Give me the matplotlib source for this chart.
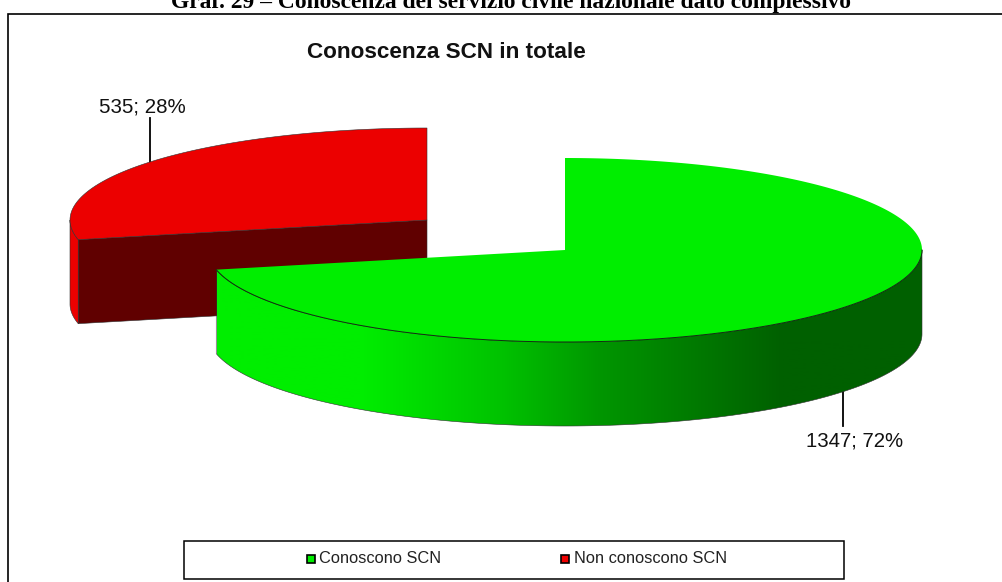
import numpy as np
import matplotlib
matplotlib.use("Agg")
from matplotlib import pyplot as plt
from matplotlib.patches import Polygon, Rectangle

# data
categories = ["Conoscono SCN", "Non conoscono SCN"]
values = [1347, 535]
percent_labels = ["72%", "28%"]
chart_title = "Conoscenza SCN in totale"
caption = "Graf. 29 – Conoscenza del servizio civile nazionale dato complessivo"

W, H = 1002, 582
rx, ry, depth = 357, 92, 84
green_c = (565, 250)
red_c = (427, 220)

LIGHT_GREEN = np.array([0, 238, 0]) / 255
RED = "#ec0000"
DARK_RED = "#600000"
EDGE = "#303030"

fractions = np.array(values) / sum(values)
split = 360 * fractions[0]


def rim(c, a0, a1, n=300):
    # angles clockwise from the top of the ellipse
    t = np.radians(np.linspace(a0, a1, n))
    return c[0] + rx * np.sin(t), c[1] - ry * np.cos(t)


fig = plt.figure(figsize=(W / 100, H / 100), dpi=100)
ax = fig.add_axes([0, 0, 1, 1])
ax.set_xlim(0, W)
ax.set_ylim(H, 0)
ax.axis("off")

# outer frame and caption
ax.add_patch(Rectangle((8.5, 13.5), W, H, fc="white", ec="black", lw=1.2, zorder=0))
ax.text(511, 8, caption, family="Liberation Serif", weight="bold", fontsize=16.9,
        ha="center", va="baseline", color="black", zorder=0.5)
ax.text(446, 52, chart_title, family="Liberation Sans", weight="bold", fontsize=16.2,
        ha="center", va="center", color="#111111")

# red slice: rim, cut face, top
x, y = rim(red_c, split, 270)
ax.add_patch(Polygon(np.r_[np.c_[x, y], np.c_[x, y + depth][::-1]], fc=RED, ec=EDGE, lw=0.4, zorder=1))
x0, y0 = rim(red_c, split, split, 1)
face = [(x0[0], y0[0]), red_c, (red_c[0], red_c[1] + depth), (x0[0], y0[0] + depth)]
ax.add_patch(Polygon(face, fc=DARK_RED, ec=EDGE, lw=0.4, zorder=2))
x, y = rim(red_c, split, 360)
ax.add_patch(Polygon(np.r_[np.c_[x, y], [red_c]], fc=RED, ec=EDGE, lw=0.4, zorder=3))

# green slice: rim with a horizontal gradient clipped to its outline
x, y = rim(green_c, 90, split)
side = Polygon(np.r_[np.c_[x, y], np.c_[x, y + depth][::-1]], fc="none", ec=EDGE, lw=0.4, zorder=5)
ax.add_patch(side)
ramp_x = np.arange(217, 923)
ramp_g = np.interp(ramp_x, [360, 500, 600, 783], [238, 195, 150, 96]) / 255
ramp = np.c_[np.zeros_like(ramp_g), ramp_g, np.zeros_like(ramp_g)]
im = ax.imshow(ramp[None, :, :], extent=(217, 922, 440, 240), aspect="auto", zorder=4)
im.set_clip_path(side)
ax.set_xlim(0, W)
ax.set_ylim(H, 0)

x, y = rim(green_c, 0, split)
ax.add_patch(Polygon(np.r_[np.c_[x, y], [green_c]], fc=LIGHT_GREEN, ec="none", zorder=6))
x, y = rim(green_c, 90, split)
ax.plot(x, y, color="#103010", lw=0.7, zorder=7)

# data labels with leader lines
ax.plot([150, 150], [118, 162], color="black", lw=1.3, zorder=2)
ax.text(142, 107, f"{values[1]}; {percent_labels[1]}", family="Liberation Sans", fontsize=14.8,
        ha="center", va="center", color="#111111")
ax.plot([843, 843], [390, 426], color="black", lw=1.3, zorder=2)
ax.text(854.5, 441, f"{values[0]}; {percent_labels[0]}", family="Liberation Sans", fontsize=14.7,
        ha="center", va="center", color="#111111")

# legend
ax.add_patch(Rectangle((184.5, 540.5), 660, 38, fc="white", ec="black", lw=1.1, zorder=8))
for cat, col, bx, tx in zip(categories, [LIGHT_GREEN, "#ee0000"], [307, 561], [319, 574]):
    ax.add_patch(Rectangle((bx, 554.5), 8, 8, fc=col, ec="black", lw=1.2, zorder=9))
    ax.text(tx, 558.5, cat, family="Liberation Sans", fontsize=11.8,
            ha="left", va="center", color="#222222", zorder=9)

fig.savefig("out.png", dpi=100)
